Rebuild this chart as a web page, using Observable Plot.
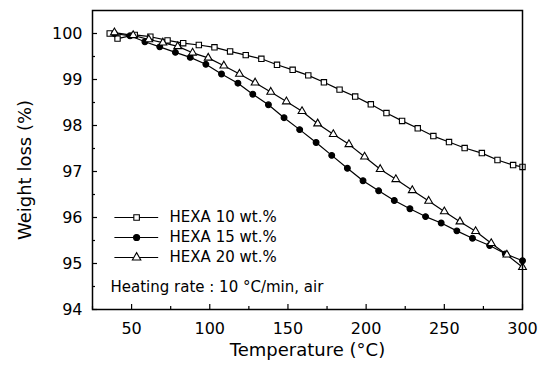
<!DOCTYPE html>
<html><head><meta charset="utf-8">
<script src="https://cdn.jsdelivr.net/npm/d3@7"></script>
<script src="https://cdn.jsdelivr.net/npm/@observablehq/plot@0.6"></script>
<style>html,body{margin:0;padding:0;background:#fff}</style>
</head><body><div id="chart"></div>
<script>
const seriesNames = ["HEXA 10 wt.%", "HEXA 15 wt.%", "HEXA 20 wt.%"];
const temp10 = [36,41,52,62,73,83,93,103,113,123,133,143,153,163,173,183,193,203,213,223,233,243,253,263,274,284,294,300];
const loss10 = [100.0,99.89,99.97,99.93,99.85,99.79,99.75,99.70,99.61,99.53,99.45,99.32,99.21,99.09,98.94,98.78,98.63,98.46,98.27,98.10,97.94,97.77,97.64,97.51,97.40,97.25,97.14,97.10];
const temp15 = [39,49,58.5,68,78,87.5,97.5,107.5,118,127.5,137.5,147.5,157.5,168,178,188,198,208,218,228,238,248,258,268,279,289,300];
const loss15 = [100.0,99.95,99.82,99.71,99.59,99.48,99.33,99.12,98.92,98.68,98.45,98.17,97.91,97.63,97.35,97.07,96.80,96.58,96.37,96.19,96.02,95.88,95.71,95.55,95.39,95.21,95.06];
const temp20 = [39,51,61,70,79.5,89,99,109,119,129,139,149,159,169,179,189,199,209,219,229.5,240,250,260,270,280,290,300];
const loss20 = [100.02,99.96,99.87,99.80,99.72,99.58,99.47,99.30,99.12,98.93,98.73,98.52,98.31,98.04,97.81,97.59,97.32,97.05,96.83,96.59,96.36,96.13,95.91,95.70,95.44,95.19,94.92];
const xTicks = [50,100,150,200,250,300];
const xMinor = [25,75,125,175,225,275];
const yTicks = [94,95,96,97,98,99,100];
const yMinor = [94.5,95.5,96.5,97.5,98.5,99.5];
const xLabel = "Temperature (°C)";
const yLabel = "Weight loss (%)";
const note = "Heating rate : 10 °C/min, air";

const symbols = ["square", "circle", "triangle"];
const fills = ["white", "black", "white"];
const temps = [temp10, temp15, temp20];
const losses = [loss10, loss15, loss20];
const rows = seriesNames.flatMap((s, i) => temps[i].map((t, j) => ({series: s, idx: i, t, w: losses[i][j]})));

// legend placement (data units)
const legendY = [96.0, 95.565, 95.13];
const legendLineX = [39, 67];
const legendMarkX = 53.2;
const legendTextX = 74.3;
const legend = seriesNames.map((s, i) => ({series: s, idx: i, y: legendY[i]}));

const font = "DejaVu Sans";
const chart = Plot.plot({
  width: 546, height: 378,
  marginLeft: 92, marginRight: 24, marginTop: 10, marginBottom: 69,
  x: {domain: [25, 300]},
  y: {domain: [94, 100.5]},
  style: {fontFamily: font, fontSize: "16px", color: "black", background: "white", overflow: "visible"},
  marks: [
    Plot.axisX(xTicks, {tickSize: 0, tickPadding: 13, fontSize: 16, label: null}),
    Plot.axisX(xTicks, {tickSize: -5, tickFormat: () => "", label: null, strokeWidth: 1.2}),
    Plot.axisX(xMinor, {tickSize: -3, tickFormat: () => "", label: null, strokeWidth: 1.2}),
    Plot.axisY(yTicks, {tickSize: 0, tickPadding: 10, fontSize: 16, label: null}),
    Plot.axisY(yTicks, {tickSize: -5, tickFormat: () => "", label: null, strokeWidth: 1.2}),
    Plot.axisY(yMinor, {tickSize: -3, tickFormat: () => "", label: null, strokeWidth: 1.2}),
    Plot.lineY(rows, {x: "t", y: "w", z: "series", stroke: "black", strokeWidth: 1.2}),
    Plot.dot(rows, {x: "t", y: "w", symbol: d => symbols[d.idx], r: d => d.idx === 0 ? 3.9 : 3.6,
      fill: d => fills[d.idx], stroke: "black", strokeWidth: 1.1}),
    Plot.link(legend, {x1: () => legendLineX[0], x2: () => legendLineX[1], y1: "y", y2: "y", stroke: "black", strokeWidth: 1.2}),
    Plot.dot(legend, {x: () => legendMarkX, y: "y", symbol: d => symbols[d.idx], r: d => d.idx === 1 ? 4 : 4.2,
      fill: d => fills[d.idx], stroke: "black", strokeWidth: 1.1}),
    Plot.text(legend, {x: () => legendTextX, y: "y", text: "series", textAnchor: "start", lineAnchor: "middle", fontSize: 15, fill: "black"}),
    Plot.text([note], {frameAnchor: "bottom-left", dx: 18, dy: -22, text: d => d, textAnchor: "start", lineAnchor: "middle", fontSize: 15, fill: "black"}),
    Plot.text([xLabel], {frameAnchor: "bottom", dy: 46, text: d => d, lineAnchor: "bottom", fontSize: 18, fill: "black"}),
    Plot.text([yLabel], {frameAnchor: "left", dx: -67, dy: 10, rotate: -90, text: d => d, textAnchor: "middle", lineAnchor: "middle", fontSize: 18, fill: "black"}),
    Plot.frame({stroke: "black", strokeWidth: 1.5})
  ]
});
document.getElementById("chart").appendChild(chart);
</script>
</body></html>
